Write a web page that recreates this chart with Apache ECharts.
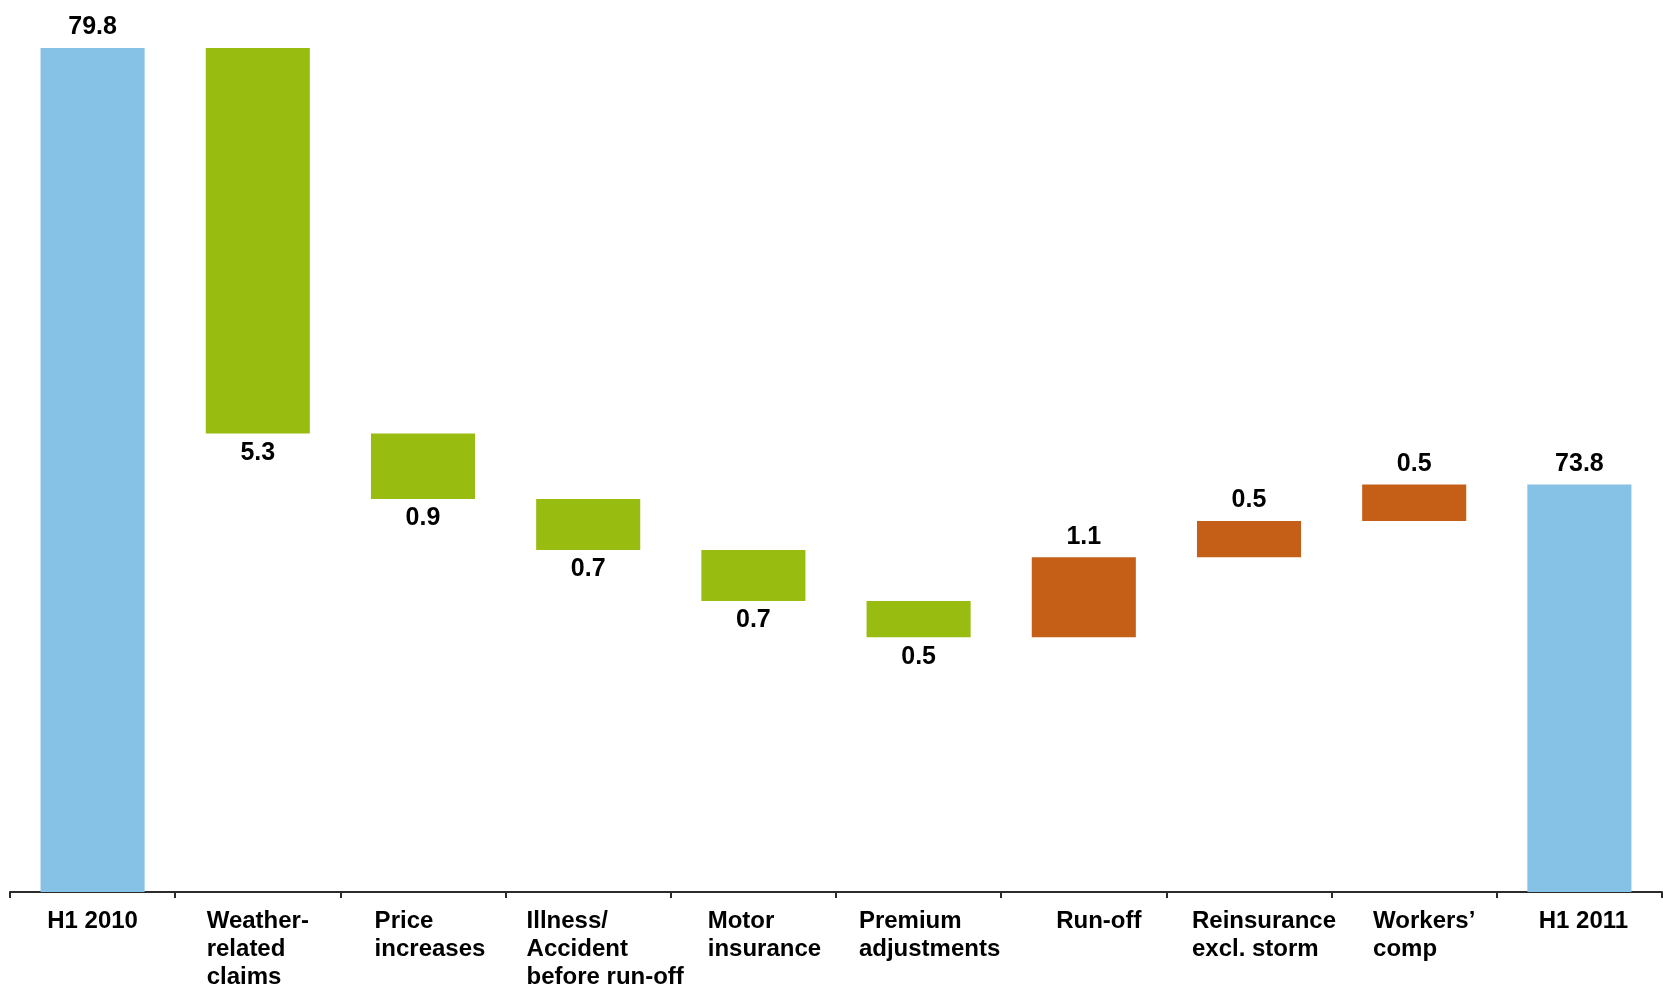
<!DOCTYPE html>
<html>
<head>
<meta charset="utf-8">
<script src="https://cdn.jsdelivr.net/npm/echarts@6/dist/echarts.min.js"></script>
<style>
html,body{margin:0;padding:0;background:#fff;}
#chart{width:1663px;height:994px;}
</style>
</head>
<body>
<div id="chart"></div>
<script>
// ---- data ----
const categories = [
  'H1 2010',
  'Weather-\nrelated\nclaims',
  'Price\nincreases',
  'Illness/\nAccident\nbefore run-off',
  'Motor\ninsurance',
  'Premium\nadjustments',
  'Run-off',
  'Reinsurance\nexcl. storm',
  'Workers\u2019\ncomp',
  'H1 2011'
];
const changes = [79.8, -5.3, -0.9, -0.7, -0.7, -0.5, 1.1, 0.5, 0.5, 73.8];
const kinds = ['total', 'down', 'down', 'down', 'down', 'down', 'up', 'up', 'up', 'total'];

// ---- styling / layout ----
const kindColors = { total: '#86C1E6', down: '#99BC10', up: '#C55F18' };
const labelNudge = [0, 0, 7, 17, 11, 11, 15, 15, 10, 4];
const FONT = "'Liberation Sans', Arial, Helvetica, sans-serif";

// build waterfall stacks
const baseData = [];
const barData = [];
let running = 0;
for (let i = 0; i < changes.length; i++) {
  const k = kinds[i];
  let baseVal, size;
  if (k === 'total') {
    baseVal = 0; size = changes[i]; running = changes[i];
  } else if (k === 'down') {
    running = +(running + changes[i]).toFixed(4);
    baseVal = running; size = -changes[i];
  } else {
    baseVal = running; size = changes[i];
    running = +(running + changes[i]).toFixed(4);
  }
  baseData.push(baseVal);
  barData.push({
    value: size,
    itemStyle: { color: kindColors[k] },
    label: { position: k === 'down' ? 'bottom' : 'top', distance: k === 'down' ? 7 : 8 }
  });
}

const rich = {};
categories.forEach((c, i) => {
  rich['r' + i] = {
    align: 'left',
    fontSize: 24,
    fontWeight: 'bold',
    fontFamily: FONT,
    color: '#000',
    lineHeight: 28,
    padding: [0, 0, 0, labelNudge[i] * 2]
  };
});

const chart = echarts.init(document.getElementById('chart'), null, { renderer: 'canvas' });
chart.setOption({
  animation: false,
  backgroundColor: '#fff',
  grid: { left: 10, right: 1, top: 48, bottom: 102, containLabel: false },
  xAxis: {
    type: 'category',
    data: categories,
    boundaryGap: true,
    axisLine: { show: true, lineStyle: { color: '#2b2b2b', width: 2 } },
    axisTick: { show: true, length: 6, alignWithLabel: false, lineStyle: { color: '#2b2b2b', width: 2 } },
    axisLabel: {
      interval: 0,
      margin: 15,
      hideOverlap: false,
      formatter: function (v, i) {
        return v.split('\n').map(s => '{r' + i + '|' + s + '}').join('\n');
      },
      rich: rich
    },
    splitLine: { show: false }
  },
  yAxis: {
    type: 'value',
    min: 68.2,
    max: 79.8,
    show: false,
    splitLine: { show: false }
  },
  series: [
    {
      name: 'base',
      type: 'bar',
      stack: 'w',
      barWidth: '63%',
      itemStyle: { color: 'transparent' },
      emphasis: { disabled: true },
      data: baseData,
      silent: true
    },
    {
      name: 'change',
      type: 'bar',
      stack: 'w',
      barWidth: '63%',
      data: barData,
      label: {
        show: true,
        fontSize: 25,
        fontWeight: 'bold',
        fontFamily: FONT,
        color: '#000',
        formatter: p => Math.abs(changes[p.dataIndex]).toFixed(1)
      }
    }
  ]
});
</script>
</body>
</html>
